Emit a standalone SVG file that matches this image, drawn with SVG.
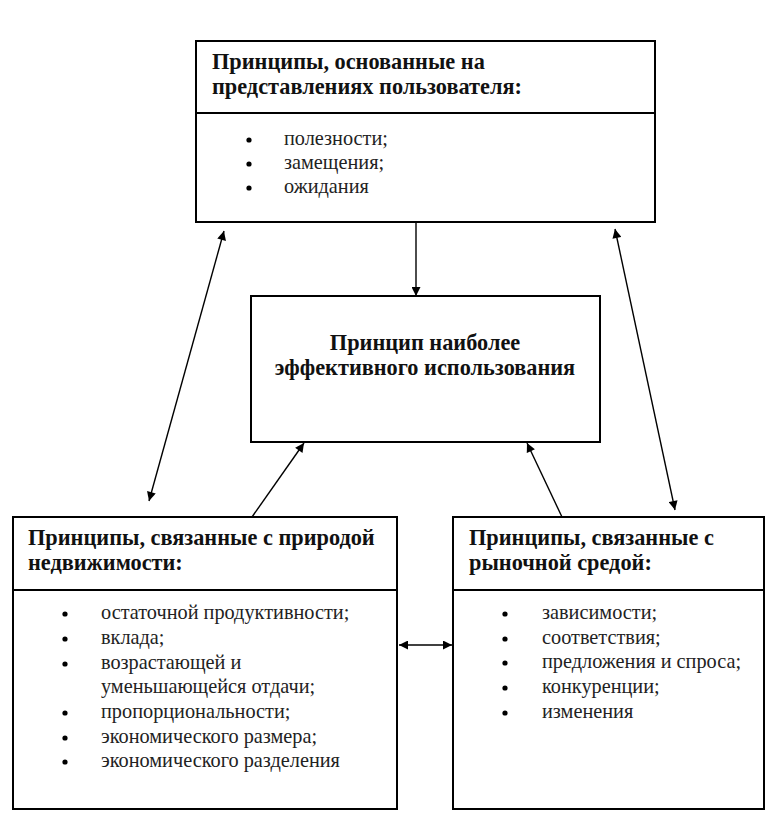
<svg xmlns="http://www.w3.org/2000/svg" width="776" height="821" viewBox="0 0 776 821">
<defs>
<marker id="ah" viewBox="0 0 10 10" refX="10" refY="5" markerWidth="10" markerHeight="9" markerUnits="userSpaceOnUse" orient="auto-start-reverse">
<path d="M0,0 L10,5 L0,10 Z" fill="#000"/>
</marker>
</defs>
<rect width="776" height="821" fill="#fff"/>
<g id="connectors" stroke="#000" stroke-width="1.4" fill="none">
<line x1="416" y1="222" x2="416" y2="296" marker-end="url(#ah)"/>
<line x1="224" y1="231" x2="149" y2="501" marker-start="url(#ah)" marker-end="url(#ah)"/>
<line x1="615" y1="229" x2="675" y2="510" marker-start="url(#ah)" marker-end="url(#ah)"/>
<line x1="252" y1="517" x2="304" y2="443" marker-end="url(#ah)"/>
<line x1="562" y1="517" x2="527" y2="443" marker-end="url(#ah)"/>
<line x1="399" y1="645" x2="452" y2="645" marker-start="url(#ah)" marker-end="url(#ah)"/>
</g>
<g id="node-user">
<rect x="196" y="41" width="459" height="181" fill="#fff" stroke="#000" stroke-width="2"/>
<line x1="196" y1="113" x2="655" y2="113" stroke="#000" stroke-width="2"/>
<text x="212" y="69" font-family="Liberation Serif, serif" font-size="22.3" font-weight="bold" fill="#111">Принципы, основанные на</text>
<text x="212" y="94" font-family="Liberation Serif, serif" font-size="22.3" font-weight="bold" fill="#111">представлениях пользователя:</text>
<circle cx="249" cy="140" r="2.6"/>
<circle cx="249" cy="164" r="2.6"/>
<circle cx="249" cy="188" r="2.6"/>
<text x="284" y="145" font-family="Liberation Serif, serif" font-size="20.3" fill="#222">полезности;</text>
<text x="284" y="169" font-family="Liberation Serif, serif" font-size="20.3" fill="#222">замещения;</text>
<text x="284" y="193" font-family="Liberation Serif, serif" font-size="20.3" fill="#222">ожидания</text>
</g>
<g id="node-best">
<rect x="251" y="296" width="349" height="146" fill="#fff" stroke="#000" stroke-width="2"/>
<text x="425" y="350" text-anchor="middle" font-family="Liberation Serif, serif" font-size="22.3" font-weight="bold" fill="#111">Принцип наиболее</text>
<text x="425" y="375" text-anchor="middle" font-family="Liberation Serif, serif" font-size="22.3" font-weight="bold" fill="#111">эффективного использования</text>
</g>
<g id="node-property">
<rect x="13" y="517" width="384" height="292" fill="#fff" stroke="#000" stroke-width="2"/>
<line x1="13" y1="590" x2="397" y2="590" stroke="#000" stroke-width="2"/>
<text x="28" y="545" font-family="Liberation Serif, serif" font-size="22.3" font-weight="bold" fill="#111">Принципы, связанные с природой</text>
<text x="28" y="570" font-family="Liberation Serif, serif" font-size="22.3" font-weight="bold" fill="#111">недвижимости:</text>
<circle cx="65" cy="614" r="2.6"/>
<circle cx="65" cy="639" r="2.6"/>
<circle cx="65" cy="664" r="2.6"/>
<circle cx="65" cy="713" r="2.6"/>
<circle cx="65" cy="738" r="2.6"/>
<circle cx="65" cy="762" r="2.6"/>
<text x="101" y="619" font-family="Liberation Serif, serif" font-size="20.3" fill="#222">остаточной продуктивности;</text>
<text x="101" y="644" font-family="Liberation Serif, serif" font-size="20.3" fill="#222">вклада;</text>
<text x="101" y="669" font-family="Liberation Serif, serif" font-size="20.3" fill="#222">возрастающей и</text>
<text x="101" y="693" font-family="Liberation Serif, serif" font-size="20.3" fill="#222">уменьшающейся отдачи;</text>
<text x="101" y="718" font-family="Liberation Serif, serif" font-size="20.3" fill="#222">пропорциональности;</text>
<text x="101" y="743" font-family="Liberation Serif, serif" font-size="20.3" fill="#222">экономического размера;</text>
<text x="101" y="767" font-family="Liberation Serif, serif" font-size="20.3" fill="#222">экономического разделения</text>
</g>
<g id="node-market">
<rect x="453" y="517" width="311" height="292" fill="#fff" stroke="#000" stroke-width="2"/>
<line x1="453" y1="590" x2="764" y2="590" stroke="#000" stroke-width="2"/>
<text x="469" y="545" font-family="Liberation Serif, serif" font-size="22.3" font-weight="bold" fill="#111">Принципы, связанные с</text>
<text x="469" y="570" font-family="Liberation Serif, serif" font-size="22.3" font-weight="bold" fill="#111">рыночной средой:</text>
<circle cx="505" cy="614" r="2.6"/>
<circle cx="505" cy="639" r="2.6"/>
<circle cx="505" cy="663" r="2.6"/>
<circle cx="505" cy="688" r="2.6"/>
<circle cx="505" cy="713" r="2.6"/>
<text x="542" y="619" font-family="Liberation Serif, serif" font-size="20.3" fill="#222">зависимости;</text>
<text x="542" y="644" font-family="Liberation Serif, serif" font-size="20.3" fill="#222">соответствия;</text>
<text x="542" y="668" font-family="Liberation Serif, serif" font-size="20.3" fill="#222">предложения и спроса;</text>
<text x="542" y="693" font-family="Liberation Serif, serif" font-size="20.3" fill="#222">конкуренции;</text>
<text x="542" y="718" font-family="Liberation Serif, serif" font-size="20.3" fill="#222">изменения</text>
</g>
</svg>
